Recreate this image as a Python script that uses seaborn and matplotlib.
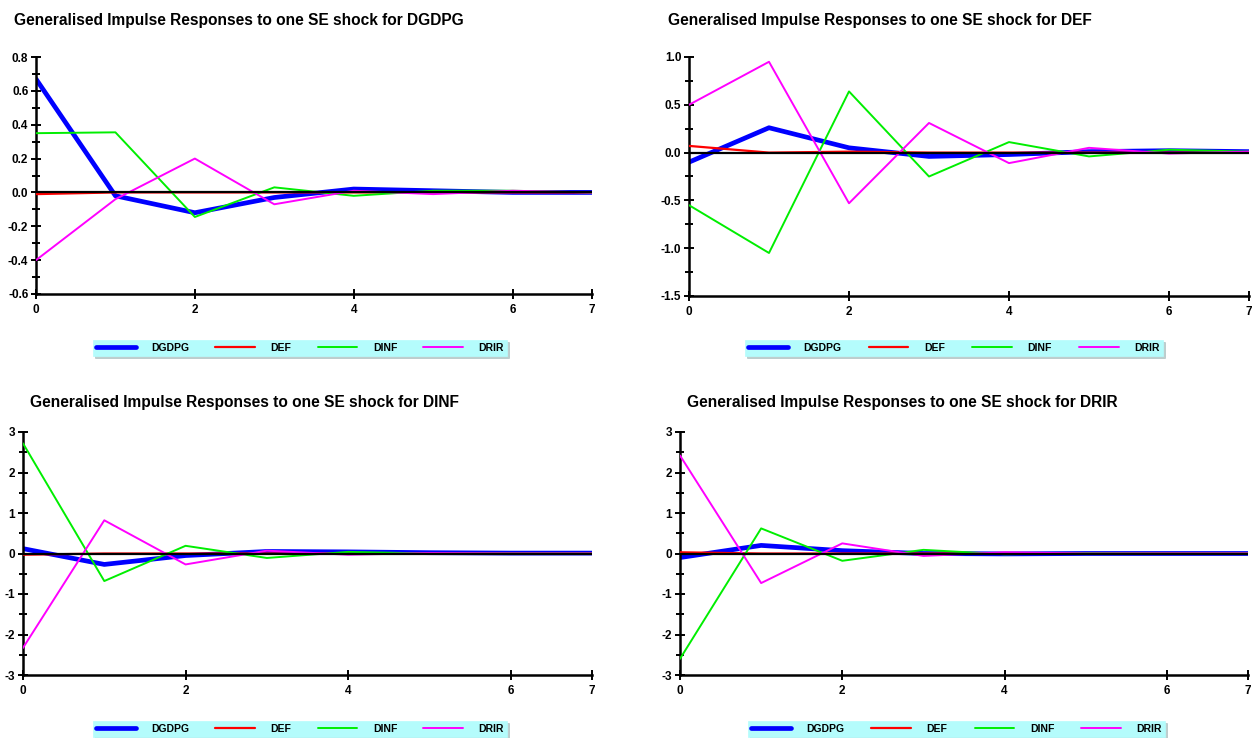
import numpy as np
import pandas as pd
import matplotlib.pyplot as plt
import seaborn as sns
from matplotlib.ticker import AutoMinorLocator

sns.set_style("white")
plt.rcParams["font.family"] = ["Liberation Sans", "DejaVu Sans"]
plt.rcParams["font.weight"] = "bold"
plt.rcParams["text.color"] = "black"
plt.rcParams["xtick.color"] = "black"
plt.rcParams["ytick.color"] = "black"

# ----------------------------------------------------------------------------------------------
# Data: responses over horizons 0..7
# ----------------------------------------------------------------------------------------------
horizon = [0, 1, 2, 3, 4, 5, 6, 7]
variables = ["DGDPG", "DEF", "DINF", "DRIR"]
shocks = ["DGDPG", "DEF", "DINF", "DRIR"]

# shock to DGDPG
dgdpg_dgdpg = [0.67, -0.02, -0.12, -0.03, 0.02, 0.01, 0.0, 0.0]
dgdpg_def = [-0.01, 0.0, 0.0, 0.0, 0.0, 0.0, 0.0, 0.0]
dgdpg_dinf = [0.35, 0.355, -0.145, 0.03, -0.02, 0.01, 0.01, 0.0]
dgdpg_drir = [-0.40, -0.04, 0.20, -0.07, 0.01, -0.01, 0.01, 0.0]

# shock to DEF
def_dgdpg = [-0.10, 0.26, 0.05, -0.04, -0.02, 0.01, 0.02, 0.01]
def_def = [0.07, 0.0, 0.01, 0.0, 0.0, 0.0, 0.0, 0.0]
def_dinf = [-0.55, -1.05, 0.64, -0.25, 0.11, -0.04, 0.03, 0.01]
def_drir = [0.50, 0.95, -0.53, 0.31, -0.11, 0.05, -0.01, 0.01]

# shock to DINF
dinf_dgdpg = [0.12, -0.27, -0.05, 0.05, 0.04, 0.02, 0.01, 0.01]
dinf_def = [-0.03, 0.0, 0.0, 0.0, 0.0, 0.0, 0.0, 0.0]
dinf_dinf = [2.72, -0.68, 0.19, -0.11, 0.04, 0.0, 0.0, 0.0]
dinf_drir = [-2.33, 0.82, -0.27, 0.07, -0.03, 0.01, 0.0, 0.0]

# shock to DRIR
drir_dgdpg = [-0.10, 0.20, 0.07, 0.0, -0.01, 0.0, 0.0, 0.0]
drir_def = [0.03, 0.0, 0.0, 0.0, 0.0, 0.0, 0.0, 0.0]
drir_dinf = [-2.60, 0.62, -0.18, 0.09, -0.02, 0.01, 0.0, 0.0]
drir_drir = [2.42, -0.73, 0.25, -0.06, 0.03, 0.0, 0.0, 0.0]

responses = {
    "DGDPG": [dgdpg_dgdpg, dgdpg_def, dgdpg_dinf, dgdpg_drir],
    "DEF": [def_dgdpg, def_def, def_dinf, def_drir],
    "DINF": [dinf_dgdpg, dinf_def, dinf_dinf, dinf_drir],
    "DRIR": [drir_dgdpg, drir_def, drir_dinf, drir_drir],
}

y_limits = {"DGDPG": (-0.6, 0.8), "DEF": (-1.5, 1.0), "DINF": (-3, 3), "DRIR": (-3, 3)}
y_steps = {"DGDPG": 0.2, "DEF": 0.5, "DINF": 1, "DRIR": 1}
y_formats = {"DGDPG": "{:.1f}", "DEF": "{:.1f}", "DINF": "{:.0f}", "DRIR": "{:.0f}"}

colors = {"DGDPG": "#0000ff", "DEF": "#ff0000", "DINF": "#00ee00", "DRIR": "#ff00ff"}
widths = {"DGDPG": 3.4, "DEF": 1.6, "DINF": 1.4, "DRIR": 1.4}

# ----------------------------------------------------------------------------------------------
# Layout (pixels in a 1254x738 figure)
# ----------------------------------------------------------------------------------------------
W, H = 1254, 738
boxes = {  # left, right, top, bottom
    "DGDPG": (36, 592, 57, 294),
    "DEF": (689, 1249, 57, 296),
    "DINF": (23, 592, 432, 675),
    "DRIR": (680, 1248, 432, 675),
}
title_pos = {"DGDPG": (14, 20), "DEF": (668, 20), "DINF": (30, 402), "DRIR": (687, 402)}
legend_pos = {  # left, right, top, bottom
    "DGDPG": (93, 507, 339, 356),
    "DEF": (745, 1163, 339, 356),
    "DINF": (93, 507, 720, 737),
    "DRIR": (748, 1165, 720, 737),
}

fig = plt.figure(figsize=(W / 100, H / 100), dpi=100)

for shock in shocks:
    l, r, t, b = boxes[shock]
    ax = fig.add_axes([l / W, 1 - b / H, (r - l) / W, (b - t) / H])

    for var, vals in zip(variables, responses[shock]):
        df = pd.DataFrame({"h": horizon, "v": vals})
        sns.lineplot(data=df, x="h", y="v", ax=ax, color=colors[var],
                     linewidth=widths[var], label=var, zorder=3 if var != "DGDPG" else 2.5)
    ax.axhline(0, color="black", linewidth=1.6, zorder=4)

    lo, hi = y_limits[shock]
    ax.set_xlim(0, 7)
    ax.set_ylim(lo, hi)
    yt = np.arange(lo, hi + y_steps[shock] / 2, y_steps[shock])
    ax.set_yticks(yt)
    ax.set_yticklabels([y_formats[shock].format(v + 0.0) for v in yt],
                       fontweight="bold", fontsize=8.5)
    ax.yaxis.set_minor_locator(AutoMinorLocator(2))
    ax.set_xticks([0, 2, 4, 6, 7])
    ax.set_xticklabels(["0", "2", "4", "6", "7"], fontweight="bold", fontsize=8.5)
    ax.set_xlabel("")
    ax.set_ylabel("")

    for side in ["top", "right"]:
        ax.spines[side].set_visible(False)
    for side in ["left", "bottom"]:
        ax.spines[side].set_color("black")
        ax.spines[side].set_linewidth(1.8)
    ax.tick_params(axis="both", which="both", direction="inout", color="black",
                   width=1.4, left=True, bottom=True)
    ax.tick_params(axis="y", which="major", length=7, pad=2)
    ax.tick_params(axis="y", which="minor", length=6)
    ax.tick_params(axis="x", which="major", length=7, pad=4)

    tx, ty = title_pos[shock]
    fig.text(tx / W, 1 - ty / H, "Generalised Impulse Responses to one SE shock for " + shock,
             fontsize=11.2, fontweight="bold", ha="left", va="center", color="black")

    ll, lr, lt, lb = legend_pos[shock]
    handles, labels = ax.get_legend_handles_labels()
    ax.get_legend().remove()
    leg = fig.legend(handles, labels, ncol=4, mode="expand",
                     bbox_to_anchor=(ll / W, 1 - lb / H, (lr - ll) / W, (lb - lt) / H),
                     loc="lower left", borderaxespad=0, prop={"weight": "bold", "size": 7.5},
                     handlelength=3.8, handletextpad=1.5, borderpad=0.3, frameon=True,
                     fancybox=False, facecolor="#b4fcfc", edgecolor="#b4fcfc", framealpha=1,
                     shadow={"color": "#7f9f9f", "ox": 1.5, "oy": -1.5}, labelcolor="black")
    leg.get_frame().set_linewidth(0.5)

fig.savefig("out.png", dpi=100)
